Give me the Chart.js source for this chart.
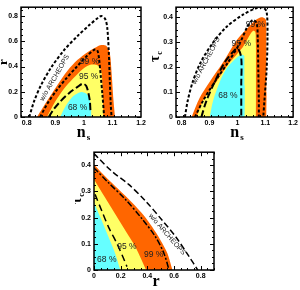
<!DOCTYPE html>
<html>
<head>
<meta charset="utf-8">
<script src="https://cdn.jsdelivr.net/npm/chart.js@4.4.1/dist/chart.umd.min.js"></script>
<style>
  html, body { margin: 0; padding: 0; background: #fff; }
  #wrap { position: relative; width: 300px; height: 290px; }
  .panel { position: absolute; }
</style>
</head>
<body>
<div id="wrap">
  <canvas id="c1" class="panel" width="150" height="145" style="left:0;top:0"></canvas>
  <canvas id="c2" class="panel" width="150" height="145" style="left:150px;top:0"></canvas>
  <canvas id="c3" class="panel" width="150" height="145" style="left:75px;top:145px"></canvas>
</div>
<script>
// tick labels
const nsTicks = [0.8, 0.9, 1, 1.1, 1.2];
const rTicks = [0, 0.2, 0.4, 0.6, 0.8];
const tauTicks = [0, 0.1, 0.2, 0.3, 0.4];
const rTicks3 = [0, 0.2, 0.4, 0.6, 0.8];

// panel 1 : r vs n_s
const orange1N = [0.836, 0.871, 0.907, 0.942, 0.978, 1.014, 1.043, 1.061, 1.079, 1.091, 1.097, 1.103, 1.109];
const orange1R = [0, 0.126, 0.252, 0.365, 0.453, 0.516, 0.553, 0.570, 0.562, 0.503, 0.352, 0.151, 0];
const yellow1N = [0.871, 0.901, 0.936, 0.972, 1.002, 1.026, 1.049, 1.061, 1.065, 1.067, 1.069];
const yellow1R = [0, 0.126, 0.239, 0.327, 0.390, 0.415, 0.408, 0.365, 0.252, 0.126, 0];
const cyan1N = [0.917, 0.934, 0.958, 0.982, 0.996, 1.012, 1.024, 1.027];
const cyan1R = [0, 0.078, 0.155, 0.192, 0.197, 0.178, 0.101, 0];
const wo1N = [0.809, 0.826, 0.850, 0.885, 0.930, 0.978, 1.020, 1.049, 1.061, 1.075, 1.082, 1.087, 1.091, 1.094, 1.097];
const wo1R = [0, 0.126, 0.252, 0.390, 0.528, 0.642, 0.730, 0.785, 0.800, 0.775, 0.704, 0.528, 0.277, 0.101, 0];
const dot1N = [0.847, 0.871, 0.901, 0.937, 0.972, 1.008, 1.037, 1.047, 1.053, 1.059, 1.065, 1.071];
const dot1R = [0, 0.101, 0.201, 0.302, 0.390, 0.478, 0.533, 0.528, 0.465, 0.327, 0.176, 0];
const long1N = [0.877, 0.895, 0.919, 0.948, 0.978, 0.996, 1.008, 1.016, 1.021, 1.023];
const long1R = [0, 0.063, 0.126, 0.189, 0.239, 0.264, 0.247, 0.189, 0.126, 0.05];

// panel 2 : tau_c vs n_s
const orange2N = [0.836, 0.865, 0.901, 0.948, 0.996, 1.043, 1.065, 1.085, 1.100, 1.108, 1.110, 1.107, 1.104];
const orange2T = [0, 0.077, 0.141, 0.218, 0.306, 0.364, 0.388, 0.400, 0.394, 0.360, 0.250, 0.100, 0];
const yellow2N = [0.854, 0.877, 0.925, 0.972, 1.020, 1.043, 1.056, 1.065, 1.068, 1.068, 1.066];
const yellow2T = [0, 0.065, 0.141, 0.218, 0.281, 0.326, 0.345, 0.340, 0.300, 0.129, 0];
const cyan2N = [0.901, 0.913, 0.937, 0.960, 0.990, 1.014, 1.026, 1.028, 1.026];
const cyan2T = [0, 0.065, 0.141, 0.192, 0.230, 0.249, 0.243, 0.129, 0];
const wo2N = [0.812, 0.822, 0.840, 0.868, 0.910, 0.960, 1.020, 1.067, 1.091, 1.105, 1.108, 1.105, 1.097, 1.093];
const wo2T = [0, 0.065, 0.141, 0.218, 0.294, 0.360, 0.410, 0.436, 0.440, 0.421, 0.320, 0.192, 0.065, 0];
const dot2N = [0.848, 0.877, 0.919, 0.966, 1.008, 1.037, 1.055, 1.069, 1.073, 1.075, 1.077, 1.077];
const dot2T = [0, 0.065, 0.141, 0.218, 0.294, 0.364, 0.389, 0.377, 0.320, 0.192, 0.065, 0];
const long2N = [0.871, 0.889, 0.919, 0.954, 0.990, 1.002, 1.014, 1.014, 1.014, 1.014];
const long2T = [0, 0.065, 0.141, 0.218, 0.268, 0.275, 0.237, 0.130, 0.015, 0];

// panel 3 : tau_c vs r
const cyan3R = [0, 0.058, 0.109, 0.159, 0.197];
const cyan3T = [0.258, 0.189, 0.126, 0.063, 0];
const yellow3R = [0, 0.083, 0.159, 0.235, 0.311, 0.391];
const yellow3T = [0.346, 0.277, 0.214, 0.151, 0.088, 0];
const orange3R = [0, 0.083, 0.184, 0.285, 0.374, 0.437, 0.500, 0.551, 0.588];
const orange3T = [0.403, 0.358, 0.308, 0.258, 0.208, 0.164, 0.113, 0.063, 0];
const wo3R = [0, 0.028, 0.134, 0.260, 0.386, 0.513, 0.614, 0.715, 0.778];
const wo3T = [0.445, 0.430, 0.377, 0.327, 0.264, 0.189, 0.126, 0.050, 0];
const dd3R = [0, 0.109, 0.235, 0.361, 0.462, 0.525, 0.563];
const dd3T = [0.390, 0.333, 0.270, 0.195, 0.126, 0.063, 0];
const long3R = [0.008, 0.058, 0.109, 0.172, 0.222, 0.247];
const long3T = [0.289, 0.226, 0.164, 0.101, 0.044, 0.013];

const CYAN = '#66ffff', YELLOW = '#ffff66', ORANGE = '#ff6600';

const pts = (xs, ys) => xs.map((v, i) => ({ x: v, y: ys[i] }));

const region = (xs, ys, color, order) => ({
  data: pts(xs, ys), showLine: true, fill: 'origin',
  backgroundColor: color, borderColor: 'rgba(0,0,0,0)', borderWidth: 1,
  pointRadius: 0, tension: 0.3, order
});

const contour = (xs, ys, dash, width) => ({
  data: pts(xs, ys), showLine: true, fill: false,
  borderColor: '#000', borderWidth: width, borderDash: dash,
  pointRadius: 0, tension: 0.3, order: 0
});

const axis = (min, max, ticks, size, isY) => ({
  type: 'linear', min, max,
  afterBuildTicks: s => { s.ticks = ticks.map(v => ({ value: v })); },
  afterFit: s => { if (isY) s.width = size; else s.height = size; },
  grid: { display: false, drawTicks: false },
  border: { display: false },
  ticks: {
    padding: isY ? 3 : 2, color: '#000', maxRotation: 0, autoSkip: false,
    font: { family: 'Liberation Sans', size: 7, weight: 'bold' },
    callback: v => String(v)
  }
});

// box with inward ticks on all sides
const framePlugin = (xMinor, yMinor) => ({
  id: 'frame',
  afterDraw(chart) {
    const { ctx, chartArea: a, scales: { x, y } } = chart;
    ctx.save();
    ctx.strokeStyle = '#000';
    ctx.lineWidth = 1;
    ctx.beginPath();
    for (let v = x.min; v <= x.max + 1e-9; v += xMinor) {
      const major = x.ticks.some(t => Math.abs(t.value - v) < 1e-6);
      const len = major ? 4 : 2;
      const px = Math.round(x.getPixelForValue(v)) + 0.5;
      ctx.moveTo(px, a.bottom); ctx.lineTo(px, a.bottom - len);
      ctx.moveTo(px, a.top); ctx.lineTo(px, a.top + len);
    }
    for (let v = y.min; v <= y.max + 1e-9; v += yMinor) {
      const major = y.ticks.some(t => Math.abs(t.value - v) < 1e-6);
      const len = major ? 4 : 2;
      const py = Math.round(y.getPixelForValue(v)) + 0.5;
      ctx.moveTo(a.left, py); ctx.lineTo(a.left + len, py);
      ctx.moveTo(a.right, py); ctx.lineTo(a.right - len, py);
    }
    ctx.stroke();
    ctx.lineWidth = 1.5;
    ctx.strokeRect(a.left, a.top, a.right - a.left, a.bottom - a.top);
    ctx.restore();
  }
});

// contour labels
const notesPlugin = items => ({
  id: 'notes',
  afterDatasetsDraw(chart) {
    const { ctx, scales: { x, y } } = chart;
    ctx.save();
    ctx.fillStyle = '#222';
    ctx.textAlign = 'center';
    ctx.textBaseline = 'middle';
    items.forEach(n => {
      ctx.save();
      ctx.translate(x.getPixelForValue(n.x), y.getPixelForValue(n.y));
      ctx.rotate(n.rot * Math.PI / 180);
      ctx.font = n.size + 'px "Liberation Sans"';
      ctx.fillText(n.text, 0, 0);
      ctx.restore();
    });
    ctx.restore();
  }
});

// axis titles with subscripts
const drawSub = (ctx, main, sub, mainSize, subSize) => {
  ctx.font = 'bold ' + mainSize + 'px "Liberation Serif"';
  const w1 = ctx.measureText(main).width;
  ctx.font = 'bold ' + subSize + 'px "Liberation Serif"';
  const w2 = ctx.measureText(sub).width;
  const x0 = -(w1 + w2) / 2;
  ctx.font = 'bold ' + mainSize + 'px "Liberation Serif"';
  ctx.fillText(main, x0, 0);
  if (sub) {
    ctx.font = 'bold ' + subSize + 'px "Liberation Serif"';
    ctx.fillText(sub, x0 + w1 + 1, 3);
  }
};

const titlePlugin = (xt, yt) => ({
  id: 'titles',
  afterDraw(chart) {
    const { ctx, chartArea: a } = chart;
    ctx.save();
    ctx.fillStyle = '#000';
    ctx.textAlign = 'left';
    ctx.textBaseline = 'alphabetic';
    ctx.save();
    ctx.translate((a.left + a.right) / 2 + 2, xt.base);
    drawSub(ctx, xt.main, xt.sub, xt.size, 9);
    ctx.restore();
    ctx.save();
    ctx.translate(yt.x, (a.top + a.bottom) / 2 + (yt.dy || 0));
    ctx.rotate(-Math.PI / 2);
    drawSub(ctx, yt.main, yt.sub, yt.size, 8);
    ctx.restore();
    ctx.restore();
  }
});

const makeChart = (id, cfg) => new Chart(document.getElementById(id), {
  type: 'scatter',
  data: { datasets: cfg.datasets },
  options: {
    responsive: false, animation: false, devicePixelRatio: 1,
    layout: { padding: cfg.padding },
    plugins: { legend: { display: false }, tooltip: { enabled: false } },
    scales: { x: cfg.x, y: cfg.y }
  },
  plugins: [framePlugin(cfg.xMinor, cfg.yMinor), notesPlugin(cfg.notes), titlePlugin(cfg.xTitle, cfg.yTitle)]
});

makeChart('c1', {
  datasets: [
    region(orange1N, orange1R, ORANGE, 30),
    region(yellow1N, yellow1R, YELLOW, 20),
    region(cyan1N, cyan1R, CYAN, 10),
    contour(wo1N, wo1R, [3, 2], 2),
    contour(dot1N, dot1R, [3, 2], 2),
    contour(long1N, long1R, [7, 3], 2)
  ],
  padding: { left: 0, right: 9, top: 3, bottom: 0 },
  x: axis(0.78, 1.2, nsTicks, 28, false),
  y: axis(0, 0.87, rTicks, 21, true),
  xMinor: 0.025, yMinor: 0.05,
  notes: [
    { text: '99 %', x: 1.02, y: 0.44, rot: 0, size: 8.5 },
    { text: '95 %', x: 1.017, y: 0.322, rot: 0, size: 8.5 },
    { text: '68 %', x: 0.978, y: 0.075, rot: 0, size: 8.5 },
    { text: 'w/o ARCHEOPS', x: 0.898, y: 0.31, rot: -60, size: 7 }
  ],
  xTitle: { main: 'n', sub: 's', size: 16, base: 137 },
  yTitle: { main: 'r', sub: '', size: 13, x: 7 }
});

makeChart('c2', {
  datasets: [
    region(orange2N, orange2T, ORANGE, 30),
    region(yellow2N, yellow2T, YELLOW, 20),
    region(cyan2N, cyan2T, CYAN, 10),
    contour(wo2N, wo2T, [3, 2], 2),
    contour(dot2N, dot2T, [3, 2], 2),
    contour(long2N, long2T, [7, 3], 2)
  ],
  padding: { left: 0, right: 6, top: 3, bottom: 0 },
  x: axis(0.78, 1.2, nsTicks, 28, false),
  y: axis(0, 0.44, tauTicks, 26, true),
  xMinor: 0.025, yMinor: 0.025,
  notes: [
    { text: '99 %', x: 1.065, y: 0.371, rot: 0, size: 8.5 },
    { text: '95 %', x: 1.014, y: 0.295, rot: 0, size: 8.5 },
    { text: '68 %', x: 0.966, y: 0.085, rot: 0, size: 8.5 },
    { text: 'w/o ARCHEOPS', x: 0.888, y: 0.225, rot: -62, size: 7 }
  ],
  xTitle: { main: 'n', sub: 's', size: 16, base: 137 },
  yTitle: { main: 'τ', sub: 'c', size: 14, x: 9, dy: -5 }
});

makeChart('c3', {
  datasets: [
    region(orange3R, orange3T, ORANGE, 30),
    region(yellow3R, yellow3T, YELLOW, 20),
    region(cyan3R, cyan3T, CYAN, 10),
    contour(wo3R, wo3T, [6, 3], 1.5),
    contour(dd3R, dd3T, [6, 2, 2, 2], 1.5),
    contour(long3R, long3T, [7, 4], 1.5)
  ],
  padding: { left: 0, right: 11, top: 5, bottom: 0 },
  x: axis(0, 0.9, rTicks3, 20, false),
  y: axis(0, 0.45, tauTicks, 19, true),
  xMinor: 0.05, yMinor: 0.025,
  notes: [
    { text: '68 %', x: 0.096, y: 0.038, rot: 0, size: 8.5 },
    { text: '95 %', x: 0.247, y: 0.088, rot: 0, size: 8.5 },
    { text: '99 %', x: 0.448, y: 0.057, rot: 0, size: 8.5 },
    { text: 'w/o ARCHEOPS', x: 0.548, y: 0.136, rot: 49, size: 7 }
  ],
  xTitle: { main: 'r', sub: '', size: 16, base: 141 },
  yTitle: { main: 'τ', sub: 'c', size: 14, x: 6, dy: -12 }
});
</script>
</body>
</html>
